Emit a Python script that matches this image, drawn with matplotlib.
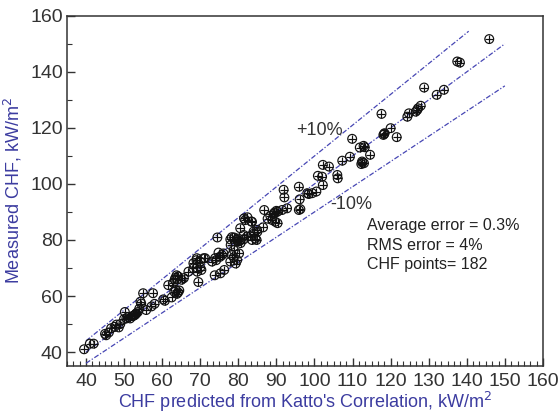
import matplotlib
matplotlib.use("Agg")
import matplotlib.pyplot as plt
from matplotlib.ticker import MultipleLocator, AutoMinorLocator

plt.rcParams['font.family'] = ['Liberation Sans', 'DejaVu Sans']

# CHF predicted (Katto) vs measured, kW/m2
x_pred = [39.5, 41, 42, 45, 45.3, 46.6, 47.5, 48, 49, 48.6,
          50.2, 50, 50.6, 51.6, 52.2, 52.8, 53.2, 53.6, 54, 54.5,
          54.3, 55, 57.6, 55.8, 57.2, 58, 60.3, 60.7, 62.5, 61.6,
          62.9, 63.3, 63.8, 64.2, 63.6, 64.2, 63.9, 65.1, 65.7, 66.9,
          68.2, 69.1, 70, 69.2, 70.3, 71.3, 69.5, 69, 70, 74.5,
          73.8, 75.3, 76.3, 74.2, 75.2, 76.1, 78, 78.9, 79.7, 80.6,
          81.5, 79.3, 79.7, 80.2, 81.5, 82.4, 83.4, 83.2, 84.1, 85,
          84.8, 84, 81.4, 82.3, 80.5, 78.3, 77.9, 78.8, 78.3, 78.8,
          77.9, 74.8, 75.7, 73.9, 73.1, 70.9, 69.1, 68.2, 86.8, 89.7,
          90.3, 88.9, 86.5, 81.8, 83.6, 84.9, 83.6, 92.8, 91.5, 90.3,
          89.3, 88.4, 87.7, 95.9, 96.3, 96.1, 91.9, 92.1, 98.1, 99.4,
          100.5, 98.5, 95.9, 102.2, 100.9, 102.2, 103.8, 106, 106.1, 102,
          107.3, 109.3, 109.9, 112.5, 113, 112.3, 114.6, 111.9, 112.9, 113.2,
          117.6, 118.1, 118.4, 120, 121.6, 124.8, 124.4, 127, 127.9, 127.2,
          126.6, 128.8, 132.1, 134, 137.5, 138.2, 145.9,
          52.5, 53, 63.5, 64, 64.5, 79.8, 80, 84.5, 89.5, 90.0,
          63.2, 51.0, 46, 80.3, 118.3, 112.6]
y_meas = [41, 43, 43, 46.5, 46, 48.5, 49, 49.8, 50, 48.8,
          54.3, 51.8, 52, 52, 52.8, 53.2, 53.8, 54.3, 55.5, 57.3,
          58, 61, 61, 55, 56.3, 57.2, 58.8, 58.3, 59.5, 63.9,
          64.7, 65.9, 67.4, 67, 62.2, 61.3, 60.8, 65.8, 66.4, 68.7,
          69.9, 70.2, 70.2, 68.7, 69.3, 73.5, 65, 72.8, 72.3, 80.9,
          67.4, 68.1, 69.3, 72.8, 74, 75.2, 78.2, 80.9, 80, 78.9,
          80.3, 71.6, 72.8, 75.2, 87.7, 88.1, 86.6, 81.4, 82.3, 82.9,
          80.0, 83, 81.8, 81.2, 84.2, 81, 80.2, 76.4, 74.6, 73.8,
          72.3, 75.5, 74.6, 73.5, 72.3, 73.5, 73.5, 71.7, 90.7, 86.5,
          86, 87.1, 84.5, 87.1, 86.5, 83.6, 80, 91.3, 90.7, 90.1,
          89.3, 88.6, 87.6, 90.7, 91, 94.5, 97.9, 95.2, 96.7, 96.7,
          97.3, 96.4, 99, 99.6, 102.9, 106.8, 106.2, 103.2, 102, 102.6,
          108.3, 109.7, 116.1, 108, 107.4, 107.1, 110.4, 113, 113.6, 113.1,
          125, 117.5, 118.1, 119.9, 116.7, 125.2, 124, 126.4, 127.9, 127,
          125.8, 134.4, 131.8, 133.6, 143.7, 143.3, 151.7,
          53.0, 53.5, 66.5, 66.0, 62.0, 79.5, 80.5, 80.5, 89.8, 90.4,
          61.5, 52.5, 47, 79.6, 117.8, 107.6]

line_col = '#4646b4'
label_col = '#3c3ca0'
dash_dot = (0, (4, 1.5, 1, 1.5))

fig = plt.figure(figsize=(5.58, 4.16), dpi=100)
ax = fig.add_axes([0.120, 0.120, 0.853, 0.842])

# reference lines: perfect agreement and +/-10 %
ax.plot([40, 150], [40, 150], color=line_col, lw=0.9, ls=dash_dot)
ax.plot([40, 140.5], [44, 154.5], color=line_col, lw=0.9, ls=dash_dot)
ax.plot([40, 150], [36, 135], color=line_col, lw=0.9, ls=dash_dot)

ax.scatter(x_pred, y_meas, s=40, marker='o', facecolors='none', edgecolors='#111111', linewidths=0.85, zorder=3)
ax.scatter(x_pred, y_meas, s=40, marker='+', color='#111111', linewidths=0.85, zorder=3)

ax.text(95.3, 119, '+10%', fontsize=13, color='#333333', va='center', ha='left')
ax.text(104.2, 92.5, '-10%', fontsize=13, color='#333333', va='center', ha='left')
ax.text(113.7, 85, 'Average error = 0.3%', fontsize=11.5, color='#222222', va='center')
ax.text(113.7, 78.2, 'RMS error = 4%', fontsize=11.5, color='#222222', va='center')
ax.text(113.7, 71.3, 'CHF points= 182', fontsize=11.5, color='#222222', va='center')

ax.set_xlim(35, 160)
ax.set_ylim(35, 160)
ax.xaxis.set_major_locator(MultipleLocator(10))
ax.xaxis.set_minor_locator(AutoMinorLocator(6))
ax.yaxis.set_major_locator(MultipleLocator(20))
ax.yaxis.set_minor_locator(AutoMinorLocator(2))
ax.tick_params(which='both', direction='in', top=False, right=False, colors='#333333', labelsize=14)
ax.tick_params(axis='x', which='major', pad=5)
ax.tick_params(axis='y', which='major', pad=3)
ax.tick_params(which='major', length=6, width=1)
ax.tick_params(which='minor', length=3.5, width=0.8)
for sp in ax.spines.values():
    sp.set_color('#333333')
    sp.set_linewidth(1.1)

ax.set_xlabel("CHF predicted from Katto's Correlation, kW/m$^2$", fontsize=13, color=label_col, labelpad=0)
ax.set_ylabel("Measured CHF, kW/m$^2$", fontsize=13, color=label_col, labelpad=4)

fig.savefig('out.png', dpi=100)
